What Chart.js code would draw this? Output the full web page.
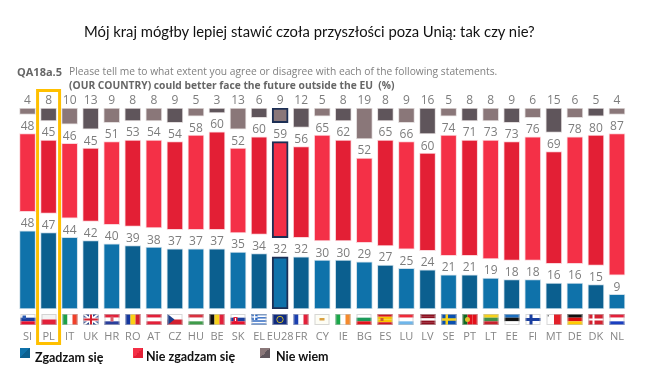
<!DOCTYPE html>
<html lang="pl">
<head>
<meta charset="utf-8">
<title>QA18a.5</title>
<script src="https://cdn.jsdelivr.net/npm/chart.js@4"></script>
<style>
  html, body { margin: 0; padding: 0; background: #fff; }
  #page { position: relative; width: 650px; height: 379px; overflow: hidden; }
  #page canvas { position: absolute; left: 0; top: 0; }
  .txt { position: absolute; white-space: nowrap; }
  #title { left: 84px; top: 22px; font: 14.8px Lato, sans-serif; color: #111; }
  #qcode { left: 17px; top: 64px; font: bold 11px "Open Sans", sans-serif; color: #666; }
  #q1 { left: 69px; top: 64px; font: 10.25px "Open Sans", sans-serif; color: #808080; }
  #q2 { left: 69px; top: 78px; font: bold 10.25px "Open Sans", sans-serif; color: #666; }
  .swatch { position: absolute; top: 348px; width: 10px; height: 10px; }
  .leg { font: bold 12.5px Lato, sans-serif; color: #111; }
</style>
</head>
<body>
<div id="page">
  <canvas id="chart" width="650" height="379"></canvas>
  <div class="txt" id="title">Mój kraj mógłby lepiej stawić czoła przyszłości poza Unią: tak czy nie?</div>
  <div class="txt" id="qcode">QA18a.5</div>
  <div class="txt" id="q1">Please tell me to what extent you agree or disagree with each of the following statements.</div>
  <div class="txt" id="q2">(OUR COUNTRY) could better face the future outside the EU&nbsp; (%)</div>
  <div class="swatch" style="left:20px;background:linear-gradient(135deg,#0f72aa 50%,#0b5f8f 50%)"></div>
  <div class="txt leg" style="left:35px;top:350px">Zgadzam się</div>
  <div class="swatch" style="left:133px;background:linear-gradient(135deg,#f43047 50%,#e31f35 50%)"></div>
  <div class="txt leg" style="left:146px;top:349px">Nie zgadzam się</div>
  <div class="swatch" style="left:260px;background:linear-gradient(135deg,#8a7779 50%,#5f555b 50%)"></div>
  <div class="txt leg" style="left:276px;top:349px">Nie wiem</div>
</div>

<script>
// Data
const countries = ['SI','PL','IT','UK','HR','RO','AT','CZ','HU','BE','SK','EL','EU28','FR','CY','IE','BG','ES','LU','LV','SE','PT','LT','EE','FI','MT','DE','DK','NL'];
const agree    = [48,47,44,42,40,39,38,37,37,37,35,34,32,32,30,30,29,27,25,24,21,21,19,18,18,16,16,15,9];
const disagree = [48,45,46,45,51,53,54,54,58,60,52,60,59,56,65,62,52,65,66,60,74,71,73,73,76,69,78,80,87];
const dontKnow = [4,8,10,13,9,8,8,9,5,3,13,6,9,12,5,8,19,8,9,16,5,8,8,9,6,15,6,5,4];

const HIGHLIGHT = 'PL';
const AVERAGE = 'EU28';

// The three blocks are separated by a fixed gap, and the grey one hangs from the top
const GAP = 11.7;
const TOP = 123.5;

const greyBars = dontKnow.map(v => [TOP - v, TOP]);
const redBars = disagree.map((v, i) => [TOP - dontKnow[i] - GAP - v, TOP - dontKnow[i] - GAP]);
const blueBars = agree.map(v => [0, v]);

// Bars alternate between a light and a dark shade
const shades = (light, dark) => countries.map((c, i) => (i % 2 ? dark : light));
const edges = pale => countries.map(c => (c === AVERAGE ? '#1c2f55' : pale));
const edgeWidths = countries.map(c => (c === AVERAGE ? 2 : 1));

function makeSet(label, data, light, dark, pale) {
  return {
    label, data,
    backgroundColor: shades(light, dark),
    borderColor: edges(pale),
    borderWidth: edgeWidths,
    borderSkipped: false,
    barThickness: 16,
    grouped: false
  };
}

// Flags: stripes first, small extras on top
const hFlags = {
  SI: ['#fff','#1b3f9c','#e8112d'], PL: ['#f4f4f4','#e3203a'], HR: ['#e3203a','#fff','#2a3f9c'],
  AT: ['#e3203a','#fff','#e3203a'], HU: ['#d9313f','#fff','#3f9c4a'], SK: ['#fff','#1b3f9c','#e8112d'],
  BG: ['#fff','#1c9a5a','#e3101a'], ES: ['#d3151f','#fac400','#fac400','#d3151f'], LU: ['#ef2b3a','#fff','#6fb6ea'],
  LV: ['#8e1020','#8e1020','#fff','#8e1020','#8e1020'], LT: ['#f7d21c','#3f8f4a','#c8202c'], EE: ['#1c6fc0','#111','#fff'],
  DE: ['#111','#dd1010','#ffcc00'], NL: ['#e3203a','#fff','#1a3fc0'], EU28: ['#0e2a80'], EL: ['#2a66c0','#fff','#2a66c0','#fff','#2a66c0','#fff','#2a66c0'],
  UK: ['#27408b'], SE: ['#0a50b0'], FI: ['#fff'], DK: ['#d3202f'], CY: ['#fdfdf5']
};
const vFlags = {
  IT: ['#1da048','#fff','#f0402a'], RO: ['#1538a0','#fcd116','#d3202f'], BE: ['#111','#f7d21c','#e3203a'],
  FR: ['#1a3fb0','#fff','#e3203a'], IE: ['#1aa84a','#fff','#f58a2c'], PT: ['#0f6a20','#e3101a','#e3101a'], MT: ['#fff','#e3202a']
};

function rect(ctx, x, y, w, h, color) {
  ctx.fillStyle = color;
  ctx.fillRect(x, y, w, h);
}

function drawFlag(ctx, code, x, y, w, h) {
  const hs = hFlags[code], vs = vFlags[code];
  if (hs) hs.forEach((c, i) => rect(ctx, x, y + i * h / hs.length, w, h / hs.length, c));
  if (vs) vs.forEach((c, i) => rect(ctx, x + i * w / vs.length, y, w / vs.length, h, c));
  // crosses and emblems
  if (code === 'UK') {
    ctx.strokeStyle = '#fff'; ctx.lineWidth = 2;
    ctx.beginPath(); ctx.moveTo(x, y); ctx.lineTo(x + w, y + h); ctx.moveTo(x + w, y); ctx.lineTo(x, y + h); ctx.stroke();
    rect(ctx, x, y + h / 2 - 2, w, 4, '#fff'); rect(ctx, x + w / 2 - 2, y, 4, h, '#fff');
    rect(ctx, x, y + h / 2 - 1, w, 2, '#d3202f'); rect(ctx, x + w / 2 - 1, y, 2, h, '#d3202f');
  }
  if (code === 'SE') { rect(ctx, x + 4, y, 2.5, h, '#f7d21c'); rect(ctx, x, y + h / 2 - 1.25, w, 2.5, '#f7d21c'); }
  if (code === 'FI') { rect(ctx, x + 4, y, 3, h, '#1a3fa0'); rect(ctx, x, y + h / 2 - 1.5, w, 3, '#1a3fa0'); }
  if (code === 'DK') { rect(ctx, x + 4, y, 2, h, '#fff'); rect(ctx, x, y + h / 2 - 1, w, 2, '#fff'); }
  if (code === 'EL') { rect(ctx, x, y, 6, 6, '#2a66c0'); rect(ctx, x + 2.3, y, 1.4, 6, '#fff'); rect(ctx, x, y + 2.3, 6, 1.4, '#fff'); }
  if (code === 'CZ') {
    rect(ctx, x, y, w, h / 2, '#fff'); rect(ctx, x, y + h / 2, w, h / 2, '#d3202f');
    ctx.fillStyle = '#1a3f8c'; ctx.beginPath(); ctx.moveTo(x, y); ctx.lineTo(x + 7, y + h / 2); ctx.lineTo(x, y + h); ctx.fill();
  }
  if (code === 'SI') { rect(ctx, x + 2, y + 1.5, 3.5, 3.5, '#2a5ab0'); }
  if (code === 'HR') { rect(ctx, x + 6, y + 2.5, 3, 5, '#d8606a'); }
  if (code === 'SK') { rect(ctx, x + 3, y + 3, 4, 5, '#e3203a'); rect(ctx, x + 4.5, y + 4, 1, 3, '#fff'); }
  if (code === 'ES') { rect(ctx, x + 3, y + 4, 3, 3, '#c8602a'); }
  if (code === 'PT') { ctx.fillStyle = '#e0c030'; ctx.beginPath(); ctx.arc(x + 5, y + h / 2, 2.5, 0, 7); ctx.fill(); }
  if (code === 'MT') { rect(ctx, x + 1, y + 1, 1.5, 1.5, '#888'); }
  if (code === 'CY') { rect(ctx, x + 5, y + 4, 5, 2.5, '#d9a040'); }
  if (code === 'EU28') {
    ctx.strokeStyle = '#c8b830'; ctx.lineWidth = 1;
    ctx.beginPath(); ctx.arc(x + w / 2, y + h / 2, 3.2, 0, 7); ctx.stroke();
  }
  ctx.strokeStyle = 'rgba(190,190,190,0.6)'; ctx.lineWidth = 1;
  ctx.strokeRect(x + 0.5, y + 0.5, w - 1, h - 1);
}

// Value labels, flags and the yellow frame around the highlighted country
const extras = {
  id: 'extras',
  afterDatasetsDraw(chart) {
    const { ctx, scales: { x } } = chart;
    const series = [agree, disagree, dontKnow];
    ctx.save();
    ctx.font = '12px "Open Sans", sans-serif';
    ctx.fillStyle = '#7d7d7d';
    ctx.textAlign = 'center';
    ctx.textBaseline = 'middle';
    series.forEach((values, d) => {
      chart.getDatasetMeta(d).data.forEach((bar, i) => ctx.fillText(values[i], bar.x, bar.y - 7));
    });
    countries.forEach((c, i) => drawFlag(ctx, c, Math.round(x.getPixelForValue(i)) - 7.5, 314, 15, 11));
    const hx = x.getPixelForValue(countries.indexOf(HIGHLIGHT));
    ctx.strokeStyle = '#ffc000';
    ctx.lineWidth = 3;
    ctx.strokeRect(hx - 11, 90.5, 22, 253);
    ctx.restore();
  }
};

new Chart(document.getElementById('chart'), {
  type: 'bar',
  data: {
    labels: countries,
    datasets: [
      makeSet('Zgadzam się', blueBars, '#0f72aa', '#0b5f8f', '#cfe0ea'),
      makeSet('Nie zgadzam się', redBars, '#f43047', '#e31f35', '#fbd5da'),
      makeSet('Nie wiem', greyBars, '#8a7779', '#5f555b', '#e2dddd')
    ]
  },
  options: {
    responsive: false,
    animation: false,
    layout: { padding: { left: 17, right: 22.5, top: 108, bottom: 0 } },
    scales: {
      x: {
        grid: { display: false },
        border: { display: false },
        afterFit(scale) { scale.height = 70; },
        ticks: {
          autoSkip: false,
          maxRotation: 0,
          padding: 13,
          color: '#858585',
          font: { family: '"Open Sans"', size: 11 }
        }
      },
      y: { display: false, min: 0, max: TOP }
    },
    plugins: {
      legend: { display: false },
      title: { display: false },
      tooltip: { enabled: false }
    }
  },
  plugins: [extras]
});
</script>
</body>
</html>
